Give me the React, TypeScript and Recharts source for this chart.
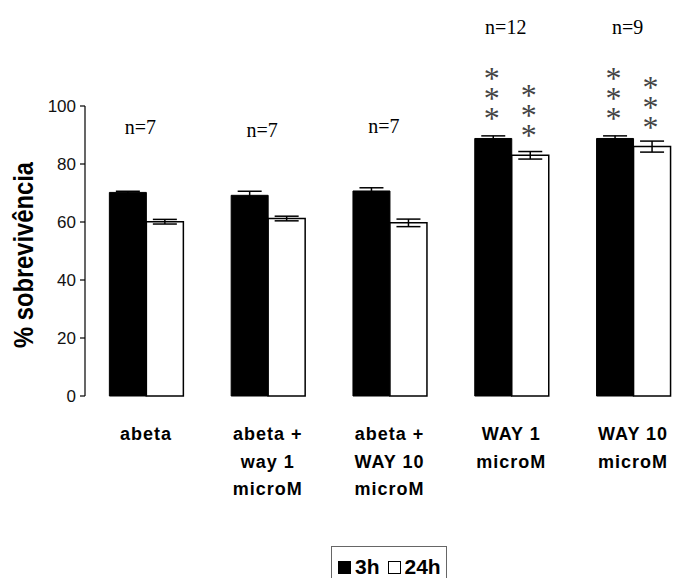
import { BarChart, Bar, XAxis, YAxis, ErrorBar, LabelList, Legend } from "recharts";

const categories = [
  "abeta",
  "abeta +\nway 1\nmicroM",
  "abeta +\nWAY 10\nmicroM",
  "WAY 1\nmicroM",
  "WAY 10\nmicroM",
];
const survival3h = [70.2, 69.2, 70.7, 88.8, 88.8];
const error3h = [0.4, 1.4, 1.1, 0.9, 0.9];
const survival24h = [60.1, 61.2, 59.7, 83.0, 86.0];
const error24h = [0.8, 0.8, 1.3, 1.3, 1.9];
const nCounts = [7, 7, 7, 12, 9];
const stars3h = [0, 0, 0, 3, 3];
const stars24h = [0, 0, 0, 3, 3];
const yTicks = [0, 20, 40, 60, 80, 100];
const boundaryTicks = [0, 1, 2, 3, 4, 5];
const seriesOrder = ["3h", "24h"];

const data = categories.map((name, i) => ({
  name,
  h3: survival3h[i],
  e3: error3h[i],
  h24: survival24h[i],
  e24: error24h[i],
  n: nCounts[i],
  s3: stars3h[i],
  s24: stars24h[i],
}));

const SANS = "'Liberation Sans', Arial, sans-serif";
const SERIF = "'Liberation Serif', 'Times New Roman', serif";

function CategoryTick({ x, y, payload }: any) {
  const lines = String(payload.value).split("\n");
  return (
    <text
      x={x}
      y={y}
      textAnchor="middle"
      fontFamily={SANS}
      fontWeight="bold"
      fontSize={18}
      letterSpacing={1}
      fill="#000"
    >
      {lines.map((line, i) => (
        <tspan key={i} x={x} dy={i === 0 ? 36 : 27.5}>
          {line}
        </tspan>
      ))}
    </text>
  );
}

// one text per column of asterisks, stacked upward from the bar top
function StarLabel({ x, y, width, value }: any) {
  const count = Number(value) || 0;
  if (!count) return null;
  const cx = x + width / 2 - 1.5;
  const top = y - 24 - (count - 1) * 20 + 15;
  return (
    <text
      x={cx}
      y={top}
      textAnchor="middle"
      fontFamily={SERIF}
      fontSize={32}
      fill="#444"
    >
      {Array.from({ length: count }).map((_, i) => (
        <tspan key={i} x={cx} dy={i === 0 ? 0 : 20}>
          *
        </tspan>
      ))}
    </text>
  );
}

function NLabel({ x, y, width, index }: any) {
  const d = data[index];
  const lift = d.s3 > 0 ? 104 : 58;
  return (
    <text
      x={x + width - 6}
      y={y - lift}
      textAnchor="middle"
      fontFamily={SERIF}
      fontSize={20}
      fill="#000"
    >
      n={d.n}
    </text>
  );
}

function YTitle({ viewBox }: any) {
  const cy = viewBox.y + viewBox.height / 2 + 4;
  return (
    <text
      x={33}
      y={cy}
      transform={`rotate(-90, 33, ${cy})`}
      textAnchor="middle"
      fontFamily={"'Liberation Sans Narrow', " + SANS}
      fontWeight="bold"
      fontSize={28}
      textLength={186}
      lengthAdjust="spacingAndGlyphs"
      fill="#000"
    >
      % sobrevivência
    </text>
  );
}

function LegendBox({ payload }: any) {
  const items = [...(payload || [])].sort(
    (a: any, b: any) => seriesOrder.indexOf(a.value) - seriesOrder.indexOf(b.value)
  );
  return (
    <div
      style={{
        border: "1.5px solid #666",
        height: 40,
        boxSizing: "border-box",
        display: "flex",
        alignItems: "flex-start",
        paddingTop: 8,
        paddingLeft: 6,
        fontFamily: SANS,
        fontWeight: "bold",
        fontSize: 21,
        lineHeight: "24px",
      }}
    >
      {items.map((p: any) => (
        <span key={p.value} style={{ display: "flex", alignItems: "center", marginRight: 8 }}>
          <span
            style={{
              display: "inline-block",
              width: 11,
              height: 11,
              background: p.payload.fill,
              border: "1.5px solid #000",
              marginRight: 4,
            }}
          />
          {p.value}
        </span>
      ))}
    </div>
  );
}

export default function App() {
  return (
    <div
      style={{
        position: "absolute",
        left: 0,
        top: 0,
        width: 685,
        height: 578,
        overflow: "hidden",
        background: "#fff",
      }}
    >
      <BarChart
        width={700}
        height={578}
        data={data}
        margin={{ top: 106, right: 6, left: 0, bottom: 82 }}
        barCategoryGap="20%"
        barGap={0}
      >
        <XAxis
          xAxisId="edge"
          type="number"
          domain={[0, 5]}
          ticks={boundaryTicks}
          tick={false}
          tickSize={6}
          height={0}
          axisLine={{ stroke: "#777", strokeWidth: 1.5 }}
          tickLine={{ stroke: "#777", strokeWidth: 1.5 }}
          allowDataOverflow
        />
        <XAxis
          xAxisId="cat"
          dataKey="name"
          height={100}
          axisLine={false}
          tickLine={false}
          tick={<CategoryTick />}
          interval={0}
        />
        <YAxis
          width={85}
          domain={[0, 100]}
          ticks={yTicks}
          tickSize={5}
          tickMargin={4}
          axisLine={{ stroke: "#000", strokeWidth: 1.2 }}
          tickLine={{ stroke: "#000", strokeWidth: 1.2 }}
          tick={{ fill: "#111", fontSize: 17, fontFamily: SANS }}
          label={<YTitle />}
        />
        <Legend
          layout="horizontal"
          verticalAlign="middle"
          align="center"
          itemSorter={null as any}
          wrapperStyle={{ left: 331, top: 546, width: 116, height: 40 }}
          content={<LegendBox />}
        />
        <Bar
          xAxisId="cat"
          dataKey="h3"
          name="3h"
          fill="#000"
          stroke="#000"
          strokeWidth={1}
          isAnimationActive={false}
        >
          <ErrorBar dataKey="e3" width={12} stroke="#000" strokeWidth={1.5} />
          <LabelList dataKey="s3" content={<StarLabel />} />
          <LabelList dataKey="n" content={<NLabel />} />
        </Bar>
        <Bar
          xAxisId="cat"
          dataKey="h24"
          name="24h"
          fill="#fff"
          stroke="#000"
          strokeWidth={1.5}
          isAnimationActive={false}
        >
          <ErrorBar dataKey="e24" width={12} stroke="#000" strokeWidth={1.5} />
          <LabelList dataKey="s24" content={<StarLabel />} />
        </Bar>
      </BarChart>
    </div>
  );
}
